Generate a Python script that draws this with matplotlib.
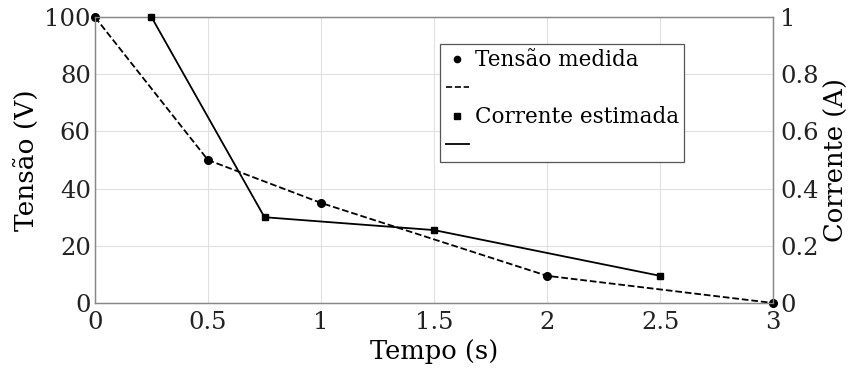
import matplotlib.pyplot as plt
from matplotlib.lines import Line2D

plt.rcParams['font.family'] = ['DejaVu Serif']

# tensão medida
t_tensao = [0, 0.5, 1, 2, 3]
tensao = [100, 50, 35, 9.5, 0]

# corrente estimada
t_corrente = [0.25, 0.75, 1.5, 2.5]
corrente = [1.0, 0.3, 0.255, 0.095]

x_ticks = [0, 0.5, 1, 1.5, 2, 2.5, 3]
x_labels = ['0', '0.5', '1', '1.5', '2', '2.5', '3']
y1_ticks = [0, 20, 40, 60, 80, 100]
y2_ticks = [0, 0.2, 0.4, 0.6, 0.8, 1]
y2_labels = ['0', '0.2', '0.4', '0.6', '0.8', '1']

fig = plt.figure(figsize=(8.63, 3.79), dpi=100)
ax = fig.add_axes([0.110, 0.2005, 0.786, 0.7545])
ax2 = ax.twinx()

ax.plot(t_tensao, tensao, 'k--', lw=1.3, marker='o', ms=5.5, clip_on=False, zorder=5)
ax2.plot(t_corrente, corrente, 'k-', lw=1.3, marker='s', ms=4.5, clip_on=False, zorder=5)

ax.set_xlim(0, 3)
ax.set_ylim(0, 100)
ax2.set_ylim(0, 1)
ax.set_xticks(x_ticks)
ax.set_xticklabels(x_labels)
ax.set_yticks(y1_ticks)
ax2.set_yticks(y2_ticks)
ax2.set_yticklabels(y2_labels)

ax.grid(True, color='#e0e0e0', lw=0.8)
ax.set_axisbelow(True)
for a in (ax, ax2):
    a.tick_params(direction='in', length=0, labelsize=17.5, colors='#222222')
    for s in a.spines.values():
        s.set_color('#888888')
        s.set_linewidth(0.9)
ax.tick_params(axis='x', pad=6)
ax.tick_params(axis='y', pad=3)
ax2.tick_params(axis='y', pad=5)

ax.set_xlabel('Tempo (s)', fontsize=18.5, labelpad=3)
ax.set_ylabel('Tensão (V)', fontsize=19, labelpad=4)
ax2.set_ylabel('Corrente (A)', fontsize=18.5, labelpad=4)

# legenda com marcadores e linhas em entradas separadas
handles = [
    Line2D([], [], color='k', ls='none', marker='o', ms=4.5),
    Line2D([], [], color='k', ls='--', lw=1.2),
    Line2D([], [], color='k', ls='none', marker='s', ms=4),
    Line2D([], [], color='k', ls='-', lw=1.3),
]
labels = ['Tensão medida', '', 'Corrente estimada', '']
leg = ax2.legend(handles, labels, loc='upper left', bbox_to_anchor=(0.509, 0.906),
                 fontsize=15.5, handlelength=1.1, handletextpad=0.25, borderpad=0.25,
                 labelspacing=0.3, borderaxespad=0, fancybox=False, framealpha=1)
leg.get_frame().set_edgecolor('#555555')
leg.get_frame().set_linewidth(0.9)

fig.savefig('out.png', dpi=100)
